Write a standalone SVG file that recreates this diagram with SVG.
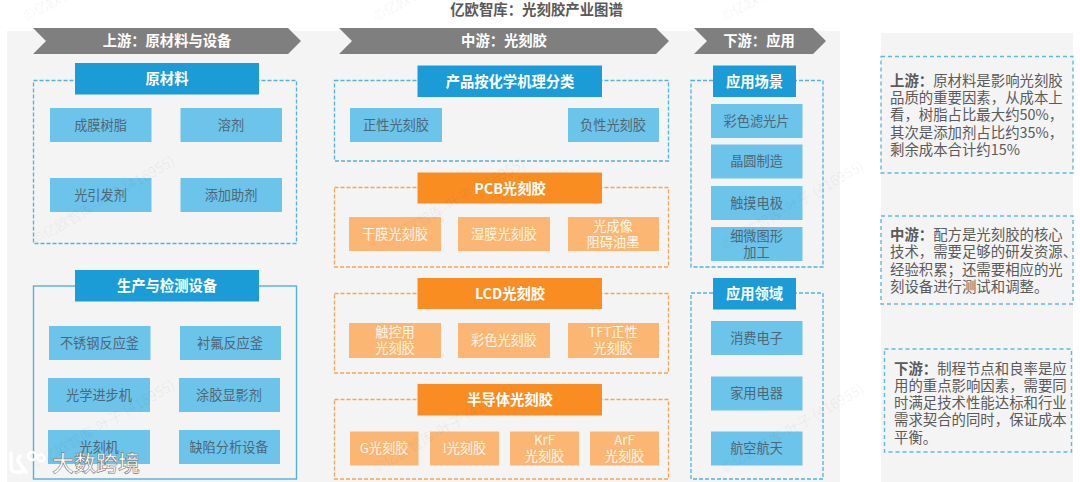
<svg xmlns="http://www.w3.org/2000/svg" width="1080" height="482" viewBox="0 0 1080 482">
<style>
text{font-family:"Noto Sans CJK SC","Noto Sans",sans-serif;text-anchor:middle}
.panel{fill:#f4f4f4}
.chev{fill:#7f7f7f}
.cht{fill:#fff;font-size:14.3px;font-weight:700}
.title{fill:#595959;font-size:14.4px;font-weight:700}
.hb{fill:#1b9cd6}
.ho{fill:#f98d22}
.ht{fill:#fff;font-size:14.3px;font-weight:700}
.db{fill:none;stroke:#4fb3dd;stroke-width:1.3;stroke-dasharray:4 2}
.so{fill:none;stroke:#4fb3dd;stroke-width:1.4}
.do{fill:none;stroke:#f5a35a;stroke-width:1.3;stroke-dasharray:4 2}
.bb{fill:#6cc4ea}
.bo{fill:#fbb673}
.bt{fill:#4e6675;font-size:13.2px}
.ot{fill:#fff6ea;font-size:13.2px}
.sd{fill:none;stroke:#5cbcdc;stroke-width:1.4;stroke-dasharray:4 3}
.st{fill:#5a5a5a;font-size:14.4px;text-anchor:start}
.st tspan.b{font-weight:700}
.wm{fill:#000;fill-opacity:.06;font-size:14.2px;text-anchor:start}
.logo{fill:#fff;font-size:22px;font-weight:500;stroke:#777;stroke-width:.6}
</style>
<rect class="panel" x="7" y="31" width="833" height="451"/>
<rect class="panel" x="881" y="33" width="192" height="449"/>

<text class="title" x="536.500" y="15">亿欧智库：光刻胶产业图谱</text>

<g id="stage-up"><polygon class="chev" points="33,28 288,28 301,41 288,54 33,54 46,41"/><text class="cht" x="167" y="46">上游：原材料与设备</text></g>
<g id="stage-mid"><polygon class="chev" points="339,28 656,28 669,41 656,54 339,54 352,41"/><text class="cht" x="504" y="46">中游：光刻胶</text></g>
<g id="stage-down"><polygon class="chev" points="694,28 813,28 826,41 813,54 694,54 707,41"/><text class="cht" x="759" y="46">下游：应用</text></g>

<g id="raw">
<rect class="db" x="33.500" y="80.500" width="263" height="163"/>
<rect class="hb" x="75" y="63" width="184" height="31.500"/><text class="ht" x="167" y="84">原材料</text>
<rect class="bb" x="50" y="108" width="101.500" height="34"/><text class="bt" x="100.500" y="129.500">成膜树脂</text>
<rect class="bb" x="180.500" y="108" width="101.500" height="34"/><text class="bt" x="231" y="129.500">溶剂</text>
<rect class="bb" x="50" y="178" width="101.500" height="34"/><text class="bt" x="100.500" y="199.500">光引发剂</text>
<rect class="bb" x="180.500" y="178" width="101.500" height="34"/><text class="bt" x="231" y="199.500">添加助剂</text>
</g>

<g id="equipment">
<rect class="so" x="33.500" y="286" width="263" height="193"/>
<rect class="hb" x="75" y="270" width="184" height="31.500"/><text class="ht" x="167" y="291">生产与检测设备</text>
<rect class="bb" x="49" y="326" width="101.500" height="34"/><text class="bt" x="99.500" y="347.500">不锈钢反应釜</text>
<rect class="bb" x="180" y="326" width="101" height="34"/><text class="bt" x="230" y="347.500">衬氟反应釜</text>
<rect class="bb" x="48" y="378" width="102" height="34"/><text class="bt" x="99" y="399.500">光学进步机</text>
<rect class="bb" x="179" y="378" width="101" height="34"/><text class="bt" x="229" y="399.500">涂胶显影剂</text>
<rect class="bb" x="48" y="430" width="102" height="34"/><text class="bt" x="99" y="451.500">光刻机</text>
<rect class="bb" x="179" y="430" width="101" height="34"/><text class="bt" x="229" y="451.500">缺陷分析设备</text>
</g>

<g id="chem">
<rect class="db" x="334.500" y="80.500" width="334" height="80.500"/>
<rect class="hb" x="417.500" y="65.500" width="184.500" height="31.500"/><text class="ht" x="510" y="86.500">产品按化学机理分类</text>
<rect class="bb" x="350" y="108" width="92" height="34"/><text class="bt" x="396" y="129.500">正性光刻胶</text>
<rect class="bb" x="568" y="108" width="91" height="34"/><text class="bt" x="613" y="129.500">负性光刻胶</text>
</g>

<g id="pcb">
<rect class="do" x="334.500" y="187.500" width="334" height="79.500"/>
<rect class="ho" x="417.500" y="172.500" width="184.500" height="31"/><text class="ht" x="510" y="193.500">PCB光刻胶</text>
<rect class="bo" x="349" y="217" width="92" height="34"/><text class="ot" x="395" y="238.500">干膜光刻胶</text>
<rect class="bo" x="458" y="217" width="92" height="34"/><text class="ot" x="504" y="238.500">湿膜光刻胶</text>
<rect class="bo" x="568" y="217" width="91" height="34"/><text class="ot" x="613" y="231">光成像</text><text class="ot" x="613" y="247">阻碍油墨</text>
</g>

<g id="lcd">
<rect class="do" x="334.500" y="293.500" width="334" height="79.500"/>
<rect class="ho" x="417.500" y="278" width="184.500" height="31"/><text class="ht" x="510" y="299">LCD光刻胶</text>
<rect class="bo" x="349" y="323" width="92" height="35"/><text class="ot" x="395" y="337">触控用</text><text class="ot" x="395" y="353">光刻胶</text>
<rect class="bo" x="458" y="323" width="92" height="35"/><text class="ot" x="504" y="345">彩色光刻胶</text>
<rect class="bo" x="568" y="323" width="91" height="35"/><text class="ot" x="613" y="337">TFT正性</text><text class="ot" x="613" y="353">光刻胶</text>
</g>

<g id="semi">
<rect class="do" x="334.500" y="399.500" width="334" height="79.500"/>
<rect class="ho" x="417.500" y="384" width="184.500" height="31.500"/><text class="ht" x="510" y="405">半导体光刻胶</text>
<rect class="bo" x="350" y="431.500" width="68.500" height="34"/><text class="ot" x="384" y="453">G光刻胶</text>
<rect class="bo" x="430" y="431.500" width="69" height="34"/><text class="ot" x="464.500" y="453">I光刻胶</text>
<rect class="bo" x="510" y="431.500" width="69" height="34"/><text class="ot" x="544.500" y="445">KrF</text><text class="ot" x="544.500" y="461">光刻胶</text>
<rect class="bo" x="590" y="431.500" width="69" height="34"/><text class="ot" x="624.500" y="445">ArF</text><text class="ot" x="624.500" y="461">光刻胶</text>
</g>

<g id="scene">
<rect class="db" x="691" y="80.500" width="132" height="186.500"/>
<rect class="hb" x="713" y="65.500" width="83" height="31.500"/><text class="ht" x="754.500" y="86.500">应用场景</text>
<rect class="bb" x="711" y="104" width="91.500" height="34"/><text class="bt" x="756.500" y="125.500">彩色滤光片</text>
<rect class="bb" x="711" y="144.500" width="91.500" height="34"/><text class="bt" x="756.500" y="166">晶圆制造</text>
<rect class="bb" x="711" y="186" width="91.500" height="34"/><text class="bt" x="756.500" y="207.500">触摸电极</text>
<rect class="bb" x="711" y="227" width="91.500" height="34"/><text class="bt" x="756.500" y="241">细微图形</text><text class="bt" x="756.500" y="257">加工</text>
</g>

<g id="field">
<rect class="db" x="691" y="293" width="132" height="186"/>
<rect class="hb" x="713" y="278" width="83" height="31.500"/><text class="ht" x="754.500" y="299">应用领域</text>
<rect class="bb" x="711" y="321" width="91.500" height="34"/><text class="bt" x="756.500" y="342.500">消费电子</text>
<rect class="bb" x="711" y="376.500" width="91.500" height="34"/><text class="bt" x="756.500" y="398">家用电器</text>
<rect class="bb" x="711" y="431.500" width="91.500" height="34"/><text class="bt" x="756.500" y="453">航空航天</text>
</g>

<g id="note-up">
<rect class="sd" x="881" y="56.500" width="192" height="116.500"/>
<text class="st" x="890" y="85.700"><tspan class="b">上游：</tspan>原材料是影响光刻胶</text>
<text class="st" x="890" y="103">品质的重要因素，从成本上</text>
<text class="st" x="890" y="120.300">看，树脂占比最大约50%，</text>
<text class="st" x="890" y="137.600">其次是添加剂占比约35%，</text>
<text class="st" x="890" y="154.900">剩余成本合计约15%</text>
</g>
<g id="note-mid">
<rect class="sd" x="881" y="216" width="192" height="88"/>
<text class="st" x="890" y="240"><tspan class="b">中游：</tspan>配方是光刻胶的核心</text>
<text class="st" x="890" y="257.300">技术，需要足够的研发资源、</text>
<text class="st" x="890" y="274.600">经验积累；还需要相应的光</text>
<text class="st" x="890" y="291.900">刻设备进行测试和调整。</text>
</g>
<g id="note-down">
<rect class="sd" x="884.500" y="349" width="187" height="103"/>
<text class="st" x="894" y="373.500"><tspan class="b">下游：</tspan>制程节点和良率是应</text>
<text class="st" x="894" y="390.800">用的重点影响因素，需要同</text>
<text class="st" x="894" y="408.100">时满足技术性能达标和行业</text>
<text class="st" x="894" y="425.400">需求契合的同时，保证成本</text>
<text class="st" x="894" y="442.700">平衡。</text>
</g>

<g id="watermarks">
<text class="wm" transform="translate(27,22) rotate(-30)">©亿欧智库-叶子 (416955)</text>
<text class="wm" transform="translate(377,22) rotate(-30)">©亿欧智库-叶子 (416955)</text>
<text class="wm" transform="translate(725,22) rotate(-30)">©亿欧智库-叶子 (416955)</text>
<text class="wm" transform="translate(36,245) rotate(-30)">©亿欧智库-叶子 (416955)</text>
<text class="wm" transform="translate(386,247) rotate(-30)">©亿欧智库-叶子 (416955)</text>
<text class="wm" transform="translate(725,250) rotate(-30)">©亿欧智库-叶子 (416955)</text>
<text class="wm" transform="translate(36,469) rotate(-30)">©亿欧智库-叶子 (416955)</text>
<text class="wm" transform="translate(377,473) rotate(-30)">©亿欧智库-叶子 (416955)</text>
<text class="wm" transform="translate(725,473) rotate(-30)">©亿欧智库-叶子 (416955)</text>
</g>

<g id="logo">
<path d="M11 453v14q0 5 5 5h6M20 456q-4 4 0 8l6 8" fill="none" stroke="#fff" stroke-width="3.500" stroke-linecap="round"/>
<circle cx="32" cy="456" r="4" fill="none" stroke="#fff" stroke-width="2.500"/>
<circle cx="41" cy="458" r="3.500" fill="none" stroke="#fff" stroke-width="2.500"/>
<text class="logo" x="96" y="471">大数跨境</text>
</g>
</svg>
